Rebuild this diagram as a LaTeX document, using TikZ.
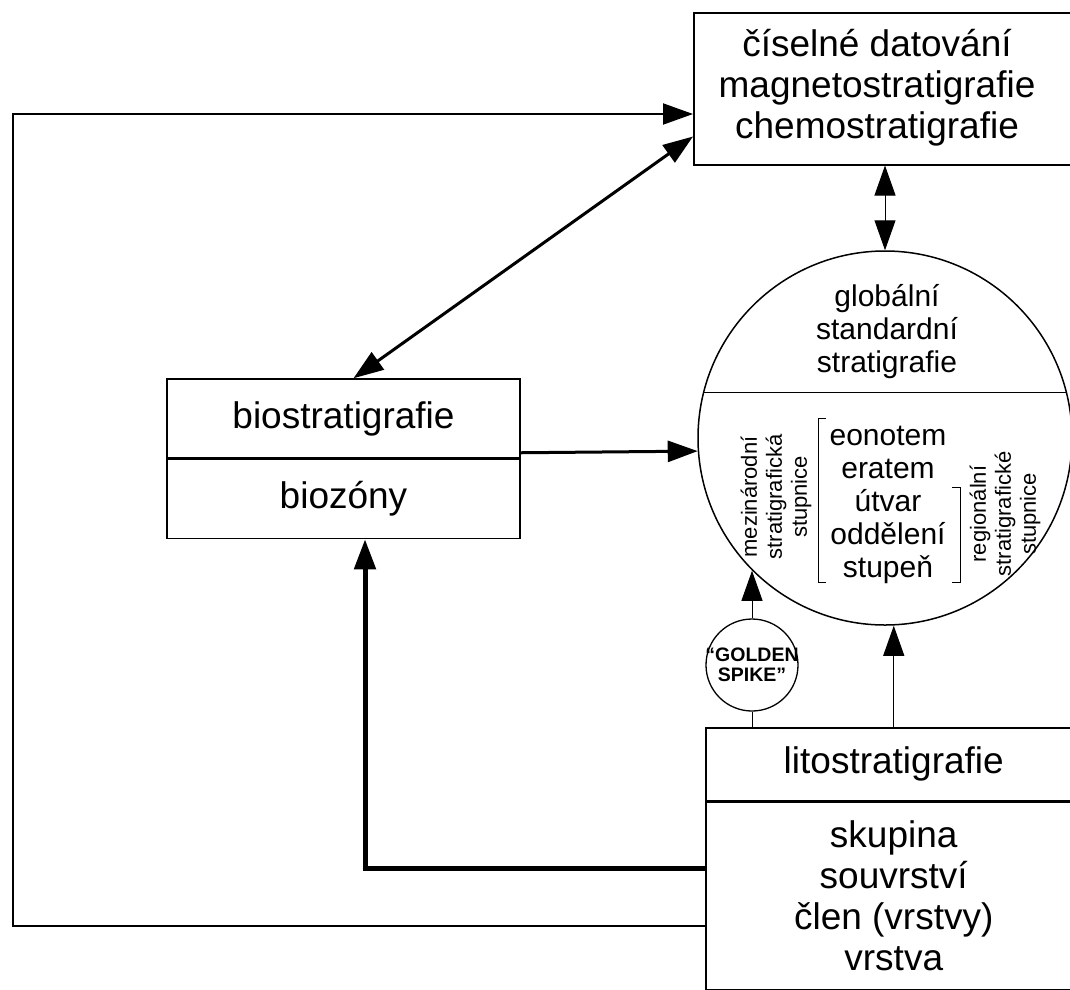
\documentclass[tikz,border=0pt]{standalone}
\usepackage{fontspec}
\setmainfont{Liberation Sans}
\usetikzlibrary{arrows.meta,positioning}

\begin{document}
\begin{tikzpicture}[x=1pt, y=-1pt, line width=1.5pt,
	>={Triangle[length=30pt,width=21pt]},
	box/.style={draw, line width=1.5pt, inner sep=0pt},
	big/.style={font=\fontsize{37}{41}\selectfont},
	mid/.style={font=\fontsize{30}{33}\selectfont},
	small/.style={font=\fontsize{22}{25}\selectfont}]
	\useasboundingbox (0,0) rectangle (1070,989);

	% datovani nahore
	\node[box, minimum width=400pt, minimum height=152pt, anchor=north west] (datovani) at (693,12) {};
	\node[big, align=center] (datovaniText) at (877,88) {číselné datování\\magnetostratigrafie\\chemostratigrafie};

	% biostratigrafie
	\node[box, big, minimum width=353pt, minimum height=79pt] (bioHead) at (343.5,418.5) {biostratigrafie};
	\node[box, big, minimum width=353pt, minimum height=79pt, below=0pt of bioHead] (bioBody) {biozóny};

	% globalni standardni stratigrafie
	\node[circle, draw, minimum size=374pt, inner sep=0pt] (globalni) at (885,438) {};
	\draw (globalni.166) -- (globalni.14);
	\node[mid, align=center] (standard) at (887,332) {globální\\standardní\\stratigrafie};
	\node[mid, align=center] (stupne) at (888,505) {eonotem\\eratem\\útvar\\oddělení\\stupeň};
	\node[small, align=center, rotate=90] (mezinarodni) at (776,497) {mezinárodní\\stratigrafická\\stupnice};
	\node[small, align=center, rotate=90] (regionalni) at (1005,514) {regionální\\stratigrafické\\stupnice};
	\draw[line width=1pt] (826,418) -- (818,418) -- (818,582) -- (826,582);
	\draw[line width=1pt] (952,487) -- (960,487) -- (960,582) -- (952,582);

	% golden spike
	\node[circle, draw, minimum size=92pt, inner sep=0pt, line width=1.3pt,
		label={[font=\bfseries\fontsize{19.5}{20}\selectfont, align=center]center:{“GOLDEN\\SPIKE”}}] (spike) at (752,665) {};

	% litostratigrafie
	\node[box, big, minimum width=376pt, minimum height=73pt, anchor=north west] (litoHead) at (705,727) {litostratigrafie};
	\node[box, big, minimum width=376pt, minimum height=187pt, below=0pt of litoHead, align=center] (litoBody) {skupina\\souvrství\\člen (vrstvy)\\vrstva};

	\coordinate (roh) at (13,114);

	\draw[<->, line width=3pt] ([xshift=10pt]bioHead.north) -- ([yshift=29pt]datovani.south west);
	\draw[->, line width=2pt] ([yshift=-30pt]litoBody.west) -| (roh) -- (roh -| datovani.west);
	\draw[->, line width=5pt] ([yshift=27pt]litoBody.west) -| ([xshift=21.5pt]bioBody.south);
	\draw[->, line width=3pt] ([yshift=6pt]bioBody.north east) -- (globalni.184);
	\draw[<->, line width=1pt] (globalni.north) -- (globalni.north |- datovani.south);
	\draw[->, line width=1pt] (spike.north) -- (spike.north |- globalni.225);
	\draw[line width=1pt] (spike.south) -- (spike.south |- litoHead.north);
	\draw[->, line width=1pt] (litoHead.north) -- (litoHead.north |- globalni.south);
\end{tikzpicture}
\end{document}
